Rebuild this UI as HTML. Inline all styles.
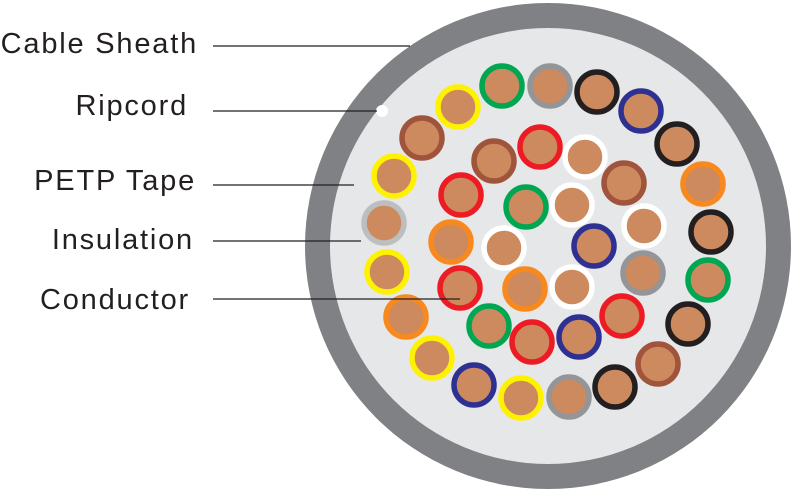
<!DOCTYPE html>
<html><head><style>
body{margin:0;background:#fff;width:793px;height:494px;overflow:hidden}
.t{position:absolute;font-family:"Liberation Sans",sans-serif;font-size:29px;letter-spacing:1.8px;color:#231f20;right:596px;line-height:1}
</style></head><body>
<div class="t" style="top:30px;right:595px">Cable Sheath</div>
<div class="t" style="top:92px;right:605px">Ripcord</div>
<div class="t" style="top:167px;right:597px">PETP Tape</div>
<div class="t" style="top:226px;right:599px">Insulation</div>
<div class="t" style="top:286px;right:603px">Conductor</div>
<svg width="793" height="494" style="position:absolute;left:0;top:0">
<circle cx="548" cy="246" r="243" fill="#808184"/>
<circle cx="548" cy="246" r="218" fill="#e6e7e8"/>
<circle cx="382" cy="111" r="6" fill="#fff"/>
<g stroke="#231f20" stroke-width="1.3">
<line x1="213" y1="46" x2="410" y2="46"/>
<line x1="213" y1="111" x2="377" y2="111"/>
<line x1="213" y1="185" x2="354" y2="185"/>
<line x1="213" y1="241" x2="361" y2="241"/>
</g>
<g fill="#cc8a5e" stroke-width="5.5">
<circle cx="502" cy="86" r="20" stroke="#00a651"/>
<circle cx="550" cy="86" r="20" stroke="#939598"/>
<circle cx="597" cy="92" r="20" stroke="#231f20"/>
<circle cx="641" cy="111" r="20" stroke="#2e3192"/>
<circle cx="677" cy="144" r="20" stroke="#231f20"/>
<circle cx="703" cy="184" r="20" stroke="#f7891f"/>
<circle cx="711" cy="232" r="20" stroke="#231f20"/>
<circle cx="708" cy="280" r="20" stroke="#00a651"/>
<circle cx="688" cy="324" r="20" stroke="#231f20"/>
<circle cx="658" cy="364" r="20" stroke="#a0543c"/>
<circle cx="615" cy="387" r="20" stroke="#231f20"/>
<circle cx="569" cy="397" r="20" stroke="#939598"/>
<circle cx="521" cy="398" r="20" stroke="#fff200"/>
<circle cx="474" cy="385" r="20" stroke="#2e3192"/>
<circle cx="432" cy="358" r="20" stroke="#fff200"/>
<circle cx="406" cy="317" r="20" stroke="#f7891f"/>
<circle cx="387" cy="272" r="20" stroke="#fff200"/>
<circle cx="384" cy="223" r="20" stroke="#bcbec0"/>
<circle cx="394" cy="176" r="20" stroke="#fff200"/>
<circle cx="422" cy="138" r="20" stroke="#a0543c"/>
<circle cx="458" cy="107" r="20" stroke="#fff200"/>
<circle cx="540" cy="147" r="20" stroke="#ed1c24"/>
<circle cx="585" cy="157" r="20" stroke="#fff"/>
<circle cx="624" cy="183" r="20" stroke="#a0543c"/>
<circle cx="644" cy="226" r="20" stroke="#fff"/>
<circle cx="643" cy="273" r="20" stroke="#939598"/>
<circle cx="622" cy="316" r="20" stroke="#ed1c24"/>
<circle cx="579" cy="337" r="20" stroke="#2e3192"/>
<circle cx="532" cy="342" r="20" stroke="#ed1c24"/>
<circle cx="489" cy="326" r="20" stroke="#00a651"/>
<circle cx="460" cy="288" r="20" stroke="#ed1c24"/>
<circle cx="451" cy="242" r="20" stroke="#f7891f"/>
<circle cx="461" cy="195" r="20" stroke="#ed1c24"/>
<circle cx="494" cy="161" r="20" stroke="#a0543c"/>
<circle cx="526" cy="207" r="20" stroke="#00a651"/>
<circle cx="572" cy="205" r="20" stroke="#fff"/>
<circle cx="594" cy="246" r="20" stroke="#2e3192"/>
<circle cx="572" cy="287" r="20" stroke="#fff"/>
<circle cx="525" cy="289" r="20" stroke="#f7891f"/>
<circle cx="504" cy="248" r="20" stroke="#fff"/>
</g>
<line x1="213" y1="299" x2="460" y2="299" stroke="#231f20" stroke-width="1.3"/>
</svg>
</body></html>
